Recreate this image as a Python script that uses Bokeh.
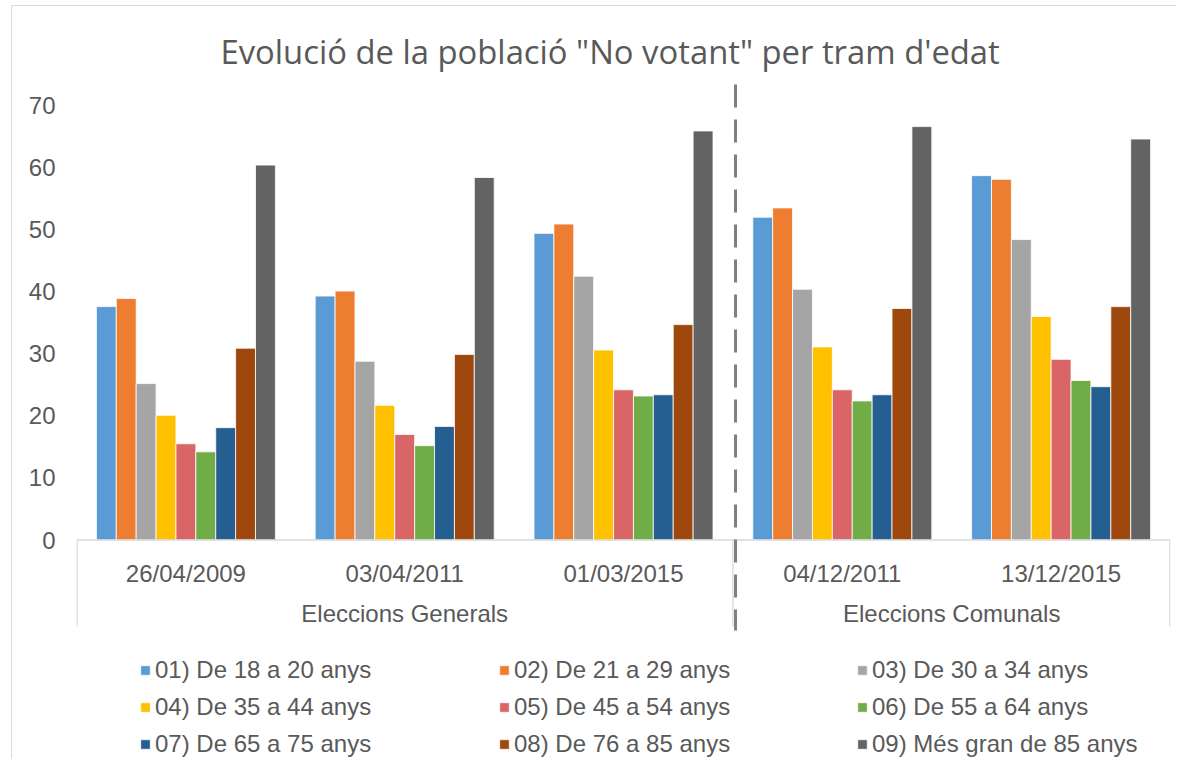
from bokeh.plotting import figure
from bokeh.models import (FactorRange, Range1d, FixedTicker, Legend, LegendItem,
                          ColumnDataSource)
from bokeh.transform import dodge
from bokeh.embed import file_html
from bokeh.resources import INLINE

# ---------------- data ----------------
dates = ["26/04/2009", "03/04/2011", "01/03/2015", "04/12/2011", "13/12/2015"]
groups = ["Eleccions Generals", "Eleccions Generals", "Eleccions Generals",
          "Eleccions Comunals", "Eleccions Comunals"]
series_names = ["01) De 18 a 20 anys", "02) De 21 a 29 anys", "03) De 30 a 34 anys",
                "04) De 35 a 44 anys", "05) De 45 a 54 anys", "06) De 55 a 64 anys",
                "07) De 65 a 75 anys", "08) De 76 a 85 anys", "09) Més gran de 85 anys"]
s01 = [37.6, 39.3, 49.4, 52.0, 58.7]
s02 = [38.9, 40.1, 50.9, 53.5, 58.1]
s03 = [25.2, 28.8, 42.5, 40.4, 48.4]
s04 = [20.1, 21.7, 30.6, 31.1, 36.0]
s05 = [15.5, 17.0, 24.2, 24.2, 29.1]
s06 = [14.2, 15.2, 23.2, 22.4, 25.7]
s07 = [18.1, 18.3, 23.4, 23.4, 24.7]
s08 = [30.9, 29.9, 34.7, 37.3, 37.6]
s09 = [60.4, 58.4, 65.9, 66.6, 64.6]
y_ticks = [0, 10, 20, 30, 40, 50, 60, 70]
title_text = 'Evolució de la població "No votant" per tram d\'edat'

series = [s01, s02, s03, s04, s05, s06, s07, s08, s09]
colors = ["#5B9BD5", "#ED7D31", "#A5A5A5", "#FFC000", "#D96567",
          "#70AD47", "#255E91", "#9E480E", "#636363"]
TXT = "#595959"
FONT = "Liberation Sans"

factors = list(zip(groups, dates))
data = {"x": factors}
for i, vals in enumerate(series):
    data[f"s{i}"] = vals
src = ColumnDataSource(data)

# ---------------- geometry (canvas pixels) ----------------
W_FIG, H_FIG = 1176, 759
FRAME_LEFT, FRAME_RIGHT = 76, 1170
ZERO_PX = 539.5
PPU = (539.5 - 105.0) / 70.0
FRAME_TOP = 80.0
FRAME_BOTTOM = float(H_FIG)
y_end = (ZERO_PX - FRAME_TOP) / PPU
y_start = -(FRAME_BOTTOM - ZERO_PX) / PPU


def px_to_y(py):
    return (ZERO_PX - py) / PPU


p = figure(x_range=FactorRange(factors=factors, factor_padding=0, group_padding=0,
                               subgroup_padding=0, range_padding=0),
           y_range=Range1d(y_start, y_end),
           width=W_FIG, height=H_FIG, output_backend="svg", toolbar_location=None,
           min_border_left=FRAME_LEFT, min_border_right=W_FIG - FRAME_RIGHT,
           min_border_top=int(FRAME_TOP), min_border_bottom=0, title=title_text)

# light chart border (top and left edges), drawn behind a transparent canvas border area
p.border_fill_alpha = 0
p.background_fill_color = "white"
p.styles = {
    "background-color": "white",
    "background-image": "linear-gradient(#d9d9d9, #d9d9d9), linear-gradient(#d9d9d9, #d9d9d9)",
    "background-size": "1px 100%, 100% 1px",
    "background-position": "11px 5px, 11px 5px",
    "background-repeat": "no-repeat",
}

p.title.align = "left"
p.title.text_font = "Open Sans"
p.title.text_font_size = "32.8px"
p.title.text_font_style = "normal"
p.title.text_color = TXT
p.title.offset = 144
p.title.standoff = 14

p.outline_line_color = None
p.xgrid.visible = False
p.ygrid.visible = False

# y axis
p.yaxis.ticker = FixedTicker(ticks=y_ticks)
p.yaxis.axis_line_color = None
p.yaxis.major_tick_line_color = None
p.yaxis.minor_tick_line_color = None
p.yaxis.major_tick_out = 0
p.yaxis.major_tick_in = 0
p.yaxis.major_label_standoff = 21
p.yaxis.major_label_text_font = FONT
p.yaxis.major_label_text_font_size = "24px"
p.yaxis.major_label_text_color = TXT

# x axis: two-level categorical axis, labels placed just below y = 0
xa = p.xaxis[0]
xa.fixed_location = px_to_y(ZERO_PX + 10)
xa.axis_line_color = None
xa.major_tick_line_color = None
xa.minor_tick_line_color = None
xa.major_tick_out = 0
xa.major_tick_in = 0
xa.major_label_standoff = 10
xa.major_label_text_font = FONT
xa.major_label_text_font_size = "24px"
xa.major_label_text_color = TXT
xa.group_text_font = FONT
xa.group_text_font_size = "24px"
xa.group_text_color = TXT
xa.group_text_font_style = "normal"
xa.separator_line_color = None

# bars
W = 0.0909
renderers = []
for i in range(9):
    r = p.vbar(x=dodge("x", (i - 4) * W, range=p.x_range), top=f"s{i}", bottom=0,
               width=W, source=src, fill_color=colors[i], line_color="white",
               line_width=0.8)
    renderers.append(r)

# category axis line and dividers
p.segment(x0=[0], y0=[0], x1=[5], y1=[0], line_color="#d9d9d9", line_width=1.3)
yb = px_to_y(626)
p.segment(x0=[0.003, 3.0, 4.997], y0=[0, 0, 0], x1=[0.003, 3.0, 4.997],
          y1=[yb, yb, yb], line_color="#d9d9d9", line_width=1.3)

# dashed separator line between the two election types
p.segment(x0=[3.012], y0=[px_to_y(84)], x1=[3.012], y1=[px_to_y(630)],
          line_color="#7f7f7f", line_width=3, line_dash="23 12")

# legends: three columns
col_x = [63, 422, 780]
for c in range(3):
    items = [LegendItem(label=series_names[c + 3 * r], renderers=[renderers[c + 3 * r]])
             for r in range(3)]
    lg = Legend(items=items, location=(col_x[c], 1), orientation="vertical",
                glyph_width=12, glyph_height=12, label_standoff=4,
                label_text_font=FONT, label_text_font_size="24px",
                label_text_color=TXT, border_line_color=None,
                background_fill_alpha=0, padding=0, margin=0, spacing=9)
    p.add_layout(lg)

open("out.html", "w").write(file_html(p, INLINE))
